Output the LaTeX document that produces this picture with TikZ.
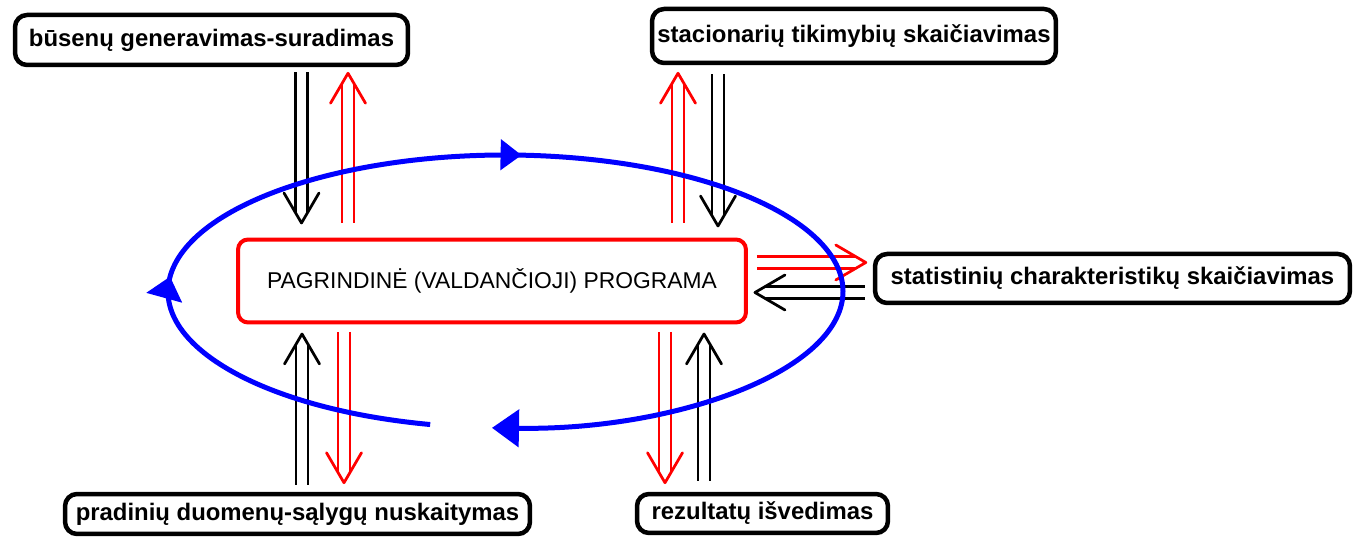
\documentclass[tikz,border=0pt]{standalone}
\usepackage{fontspec}
\setmainfont{Liberation Sans}
\usetikzlibrary{arrows.meta,calc,decorations.markings}
\definecolor{loopblue}{RGB}{0,0,255}
\definecolor{mainred}{RGB}{255,0,0}
\tikzset{
  taskbox/.style={
    rounded corners=0.24cm,
    draw=black,
    line width=0.09cm,
    fill=white,
    inner sep=0pt,
    align=center,
    font=\fontsize{13.6}{16}\selectfont\bfseries,
  },
  mainbox/.style={
    rounded corners=0.2cm,
    draw=mainred,
    line width=0.08cm,
    fill=white,
    inner sep=0pt,
    align=center,
    font=\fontsize{13}{16}\selectfont,
  },
  dblarrow/.style={
    draw=#1,
    line width=0.05cm,
    double=white,
    double distance=0.19cm,
    shorten >=0.2cm,
    postaction={decorate, decoration={markings, mark=at position 1 with {
      \draw[#1, line width=0.055cm, shorten >=0pt, line join=round, line cap=round]
        (-0.6cm,0.35cm) -- (0,0) -- (-0.6cm,-0.35cm);}}},
  },
  loopline/.style={draw=loopblue, color=loopblue, line width=0.1cm},
}

\begin{document}
\begin{tikzpicture}[x=0.02cm, y=0.02cm]
  \useasboundingbox (0,0) rectangle (1358,540);

  \node[mainbox, minimum width=10.16cm, minimum height=1.66cm] (main) at (492,259)
    {PAGRINDINĖ (VALDANČIOJI) PROGRAMA};
  \node[taskbox, minimum width=7.86cm, minimum height=1.0cm] (busenu) at (211.5,500)
    {būsenų generavimas-suradimas};
  \node[taskbox, minimum width=8.08cm, minimum height=1.08cm] (stac) at (854,504)
    {stacionarių tikimybių skaičiavimas};
  \node[taskbox, minimum width=9.5cm, minimum height=0.98cm] (stat) at (1112.5,261.5)
    {statistinių charakteristikų skaičiavimas};
  \node[taskbox, minimum width=9.3cm, minimum height=0.8cm] (prad) at (297.5,26)
    {pradinių duomenų-sąlygų nuskaitymas};
  \node[taskbox, minimum width=5.02cm, minimum height=0.78cm] (rez) at (762.5,26.5)
    {rezultatų išvedimas};

  % calls between the main program and the tasks
  \draw[dblarrow=black] ($(busenu.south -| 301.5,0)+(0,-5)$) -- ($(main.north -| 301.5,0)+(0,14.5)$);
  \draw[dblarrow=mainred] ($(main.north -| 348,0)+(0,14.5)$) -- ($(busenu.south -| 348,0)+(0,-6)$);
  \draw[dblarrow=mainred] ($(main.north -| 678,0)+(0,14.5)$) -- ($(stac.south -| 678,0)+(0,-8)$);
  \draw[dblarrow=black] ($(stac.south -| 718,0)+(0,-9)$) -- ($(main.north -| 718,0)+(0,11.5)$);
  \draw[dblarrow=mainred] ($(main.east |- 0,277.5)+(9,0)$) -- ($(stat.west |- 0,277.5)+(-7,0)$);
  \draw[dblarrow=black] ($(stat.west |- 0,247.5)+(-8,0)$) -- ($(main.east |- 0,247.5)+(7,0)$);
  \draw[dblarrow=black] ($(prad.north -| 302,0)+(0,7)$) -- ($(main.south -| 302,0)+(0,-9.5)$);
  \draw[dblarrow=mainred] ($(main.south -| 344,0)+(0,-7.5)$) -- ($(prad.north -| 344,0)+(0,9)$);
  \draw[dblarrow=mainred] ($(main.south -| 665,0)+(0,-7.5)$) -- ($(rez.north -| 665,0)+(0,9)$);
  \draw[dblarrow=black] ($(rez.north -| 704,0)+(0,11)$) -- ($(main.south -| 704,0)+(0,-9.5)$);

  % control loop
  \coordinate (loopc) at (505.5,248.5);
  \draw[loopline, -{Triangle[length=0.54cm,width=0.74cm]},
        postaction={decorate, decoration={markings,
          mark=at position 0.22 with {\arrow{Triangle[length=0.44cm,width=0.72cm]}},
          mark=at position 0.481 with {\arrow{Triangle[length=0.42cm,width=0.6cm]}}}}]
    ($(loopc)+(257.1:6.75cm and 2.73cm)$)
    arc[start angle=257.1, end angle=-92.3, x radius=6.75cm, y radius=2.73cm];
\end{tikzpicture}
\end{document}
